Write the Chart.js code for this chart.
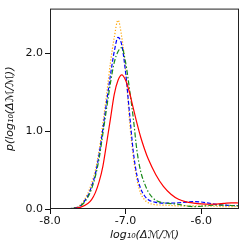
<!DOCTYPE html>
<html>
<head>
<meta charset="utf-8">
<script src="https://cdn.jsdelivr.net/npm/chart.js@4.4.1/dist/chart.umd.min.js"></script>
<style>
  html, body { margin: 0; padding: 0; background: #fff; }
  #wrap { width: 249px; height: 249px; }
</style>
</head>
<body>
<div id="wrap"><canvas id="kdeChart" width="249" height="249"></canvas></div>
<script>
// x grid in log10(dM/M)
const xValues = [-8.0, -7.9, -7.8, -7.7, -7.6, -7.5, -7.45, -7.4, -7.35, -7.3, -7.25, -7.2, -7.15, -7.1, -7.05,
  -7.0, -6.95, -6.9, -6.85, -6.8, -6.75, -6.7, -6.6, -6.5, -6.4, -6.3, -6.2, -6.1, -6.0, -5.9, -5.8, -5.7, -5.6, -5.5];

// densities
const redValues = [0, 0, 0.001, 0.005, 0.02, 0.07, 0.12, 0.21, 0.35, 0.55, 0.85, 1.16, 1.47, 1.65, 1.72,
  1.65, 1.5, 1.3, 1.1, 0.92, 0.77, 0.64, 0.44, 0.29, 0.19, 0.125, 0.092, 0.076, 0.066, 0.061, 0.063, 0.071, 0.079, 0.077];
const blueValues = [0, 0, 0.001, 0.01, 0.04, 0.17, 0.29, 0.45, 0.7, 1.03, 1.38, 1.72, 2.02, 2.2, 2.1,
  1.75, 1.25, 0.75, 0.43, 0.26, 0.17, 0.12, 0.085, 0.075, 0.075, 0.08, 0.088, 0.095, 0.09, 0.075, 0.06, 0.05, 0.045, 0.045];
const greenValues = [0, 0, 0.001, 0.008, 0.035, 0.15, 0.26, 0.42, 0.65, 0.97, 1.3, 1.62, 1.88, 2.02, 2.07,
  1.88, 1.55, 1.18, 0.75, 0.48, 0.33, 0.22, 0.11, 0.08, 0.07, 0.06, 0.04, 0.03, 0.035, 0.045, 0.05, 0.05, 0.045, 0.04];
const orangeValues = [0, 0, 0.001, 0.01, 0.05, 0.2, 0.33, 0.5, 0.75, 1.1, 1.48, 1.88, 2.2, 2.42, 2.2,
  1.8, 1.15, 0.68, 0.38, 0.2, 0.12, 0.08, 0.055, 0.05, 0.045, 0.04, 0.04, 0.04, 0.04, 0.038, 0.035, 0.03, 0.03, 0.035];

const xTicks = [-8.0, -7.0, -6.0];
const yTicks = [0.0, 1.0, 2.0];

function toPoints(ys) {
  return xValues.map((x, i) => ({ x: x, y: ys[i] }));
}

function lineSet(ys, color, dash) {
  return {
    data: toPoints(ys),
    borderColor: color,
    borderWidth: 1.2,
    borderDash: dash,
    pointRadius: 0,
    fill: false,
    cubicInterpolationMode: 'monotone'
  };
}

// frame around the plot area (top and right spines too)
const frame = {
  id: 'frame',
  afterDatasetsDraw(chart) {
    const a = chart.chartArea;
    const c = chart.ctx;
    c.save();
    c.strokeStyle = '#222';
    c.lineWidth = 1;
    c.strokeRect(a.left + 0.5, a.top + 0.5, a.right - a.left - 1, a.bottom - a.top - 1);
    c.restore();
  }
};

const ctx = document.getElementById('kdeChart').getContext('2d');

new Chart(ctx, {
  type: 'line',
  data: {
    datasets: [
      lineSet(redValues, '#ff0000', []),
      lineSet(greenValues, '#1a8a1a', [5, 2, 1.5, 2]),
      lineSet(blueValues, '#0000ff', [4, 2]),
      lineSet(orangeValues, '#ffa500', [1.2, 1.8])
    ]
  },
  options: {
    animation: false,
    responsive: false,
    devicePixelRatio: 1,
    layout: { padding: { top: 8, right: 10, left: 0, bottom: 7 } },
    plugins: { legend: { display: false }, tooltip: { enabled: false } },
    scales: {
      x: {
        type: 'linear',
        min: -8.0,
        max: -5.5,
        afterBuildTicks: s => { s.ticks = xTicks.map(v => ({ value: v })); },
        afterFit: s => { s.height = 33; },
        ticks: {
          color: '#111',
          padding: 1,
          maxRotation: 0,
          font: { family: 'DejaVu Sans', size: 11 },
          callback: v => v.toFixed(1)
        },
        grid: { drawOnChartArea: false, drawTicks: true, tickLength: 5, tickColor: '#111' },
        border: { display: false },
        title: {
          display: true,
          text: 'log₁₀(Δℳ/ℳ)',
          color: '#111',
          padding: { top: 0, bottom: 0 },
          font: { family: 'DejaVu Sans', size: 11, style: 'italic' }
        }
      },
      y: {
        min: 0,
        max: 2.57,
        afterBuildTicks: s => { s.ticks = yTicks.map(v => ({ value: v })); },
        afterFit: s => { s.width = 50; },
        ticks: {
          color: '#111',
          padding: 2,
          font: { family: 'DejaVu Sans', size: 11 },
          callback: v => v.toFixed(1)
        },
        grid: { drawOnChartArea: false, drawTicks: true, tickLength: 5, tickColor: '#111' },
        border: { display: false },
        title: {
          display: true,
          text: 'p(log₁₀(Δℳ/ℳ))',
          color: '#111',
          padding: { top: 4, bottom: 0 },
          font: { family: 'DejaVu Sans', size: 11, style: 'italic' }
        }
      }
    }
  },
  plugins: [frame]
});
</script>
</body>
</html>
